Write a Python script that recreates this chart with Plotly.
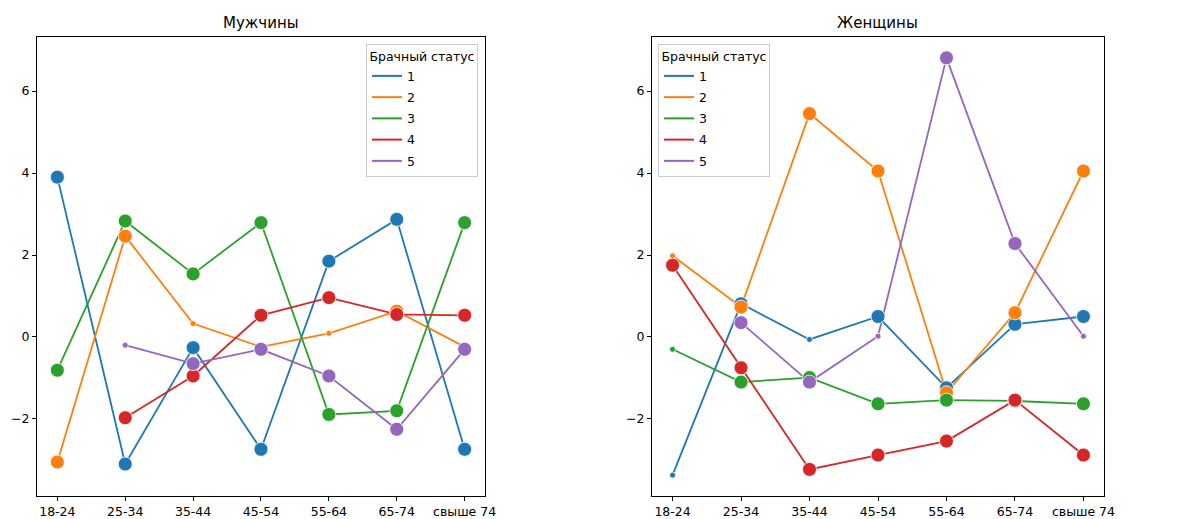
import plotly.graph_objects as go

age_groups = ["18-24", "25-34", "35-44", "45-54", "55-64", "65-74", "свыше 74"]
statuses = ["1", "2", "3", "4", "5"]
colors = ["#1f77b4", "#ff7f0e", "#2ca02c", "#d62728", "#9467bd"]

# Мужчины: values per marital status
men_1 = [3.90, -3.10, -0.26, -2.74, 1.85, 2.87, -2.74]
men_2 = [-3.05, 2.46, 0.33, -0.24, 0.09, 0.63, -0.24]
men_3 = [-0.81, 2.83, 1.54, 2.79, -1.89, -1.80, 2.79]
men_4 = [None, -1.97, -0.95, 0.53, 0.96, 0.55, 0.53]
men_5 = [None, -0.20, -0.65, -0.30, -0.95, -2.25, -0.30]
# significance flags (1 = large marker)
men_sig_1 = [1, 1, 1, 1, 1, 1, 1]
men_sig_2 = [1, 1, 0, 0, 0, 1, 0]
men_sig_3 = [1, 1, 1, 1, 1, 1, 1]
men_sig_4 = [0, 1, 1, 1, 1, 1, 1]
men_sig_5 = [0, 0, 1, 1, 1, 1, 1]

# Женщины
women_1 = [-3.37, 0.81, -0.06, 0.50, -1.24, 0.31, 0.50]
women_2 = [1.98, 0.73, 5.45, 4.05, -1.36, 0.59, 4.05]
women_3 = [-0.30, -1.10, -0.99, -1.63, -1.54, -1.56, -1.63]
women_4 = [1.75, -0.75, -3.23, -2.88, -2.54, -1.54, -2.88]
women_5 = [None, 0.35, -1.10, 0.02, 6.81, 2.28, 0.02]
women_sig_1 = [0, 1, 0, 1, 1, 1, 1]
women_sig_2 = [0, 1, 1, 1, 1, 1, 1]
women_sig_3 = [0, 1, 1, 1, 1, 1, 1]
women_sig_4 = [1, 1, 1, 1, 1, 1, 1]
women_sig_5 = [0, 1, 1, 0, 1, 1, 0]

men = [men_1, men_2, men_3, men_4, men_5]
men_sig = [men_sig_1, men_sig_2, men_sig_3, men_sig_4, men_sig_5]
women = [women_1, women_2, women_3, women_4, women_5]
women_sig = [women_sig_1, women_sig_2, women_sig_3, women_sig_4, women_sig_5]

BIG, SMALL = 14, 6
FONT = "DejaVu Sans"

fig = go.Figure()
xi = list(range(len(age_groups)))

panels = [("x", "y", men, men_sig), ("x2", "y2", women, women_sig)]
for xa, ya, data, sig in panels:
    for k, vals in enumerate(data):
        fig.add_trace(go.Scatter(x=xi, y=vals, mode="lines", xaxis=xa, yaxis=ya,
                                 line=dict(color=colors[k], width=1.8),
                                 showlegend=False, hoverinfo="skip"))
    for k, vals in enumerate(data):
        sizes = [BIG if s else SMALL for s in sig[k]]
        fig.add_trace(go.Scatter(x=xi, y=vals, mode="markers", xaxis=xa, yaxis=ya,
                                 marker=dict(color=colors[k], size=sizes, opacity=1,
                                             line=dict(color="white", width=0.8)),
                                 showlegend=False))

# legend entries (lines only)
for lg in ["legend", "legend2"]:
    for k, s in enumerate(statuses):
        fig.add_trace(go.Scatter(x=[None], y=[None], mode="lines", name=s,
                                 line=dict(color=colors[k], width=2),
                                 legend=lg, legendgroup=lg + s, showlegend=True))

allv = [v for d in men + women for v in d if v is not None]
lo, hi = min(allv), max(allv)
pad = (hi - lo) * 0.05
yrange = [lo - pad, hi + pad]

axis_common = dict(showline=True, linecolor="black", linewidth=1, mirror=True,
                   ticks="outside", ticklen=4, tickcolor="black", showgrid=False,
                   zeroline=False, automargin=False,
                   tickfont=dict(family=FONT, size=12.5, color="black"))

W, H = 1182, 511
XD1 = [0.02453, 0.40355]
XD2 = [0.54484, 0.92724]
YD = [0.04501, 0.94325]

legend_common = dict(yanchor="top", y=0.92955, tracegroupgap=2,
                     bgcolor="rgba(255,255,255,0.8)", bordercolor="#cccccc", borderwidth=1,
                     font=dict(family=FONT, size=12.5),
                     title=dict(text="Брачный статус", side="top center",
                                font=dict(family=FONT, size=12.5)))

fig.update_layout(
    width=W, height=H,
    paper_bgcolor="white", plot_bgcolor="white",
    margin=dict(l=0, r=0, t=0, b=0, autoexpand=False),
    font=dict(family=FONT, size=12.5, color="black"),
    xaxis=dict(domain=XD1, range=[-0.3, 6.3], tickmode="array",
               tickvals=xi, ticktext=age_groups, anchor="y", **axis_common),
    yaxis=dict(domain=YD, range=yrange, tickvals=[-2, 0, 2, 4, 6],
               anchor="x", **axis_common),
    xaxis2=dict(domain=XD2, range=[-0.3, 6.3], tickmode="array",
                tickvals=xi, ticktext=age_groups, anchor="y2", **axis_common),
    yaxis2=dict(domain=YD, range=yrange, tickvals=[-2, 0, 2, 4, 6],
                anchor="x2", **axis_common),
    legend=dict(x=0.39763, xanchor="right", **legend_common),
    legend2=dict(x=0.54992, xanchor="left", **legend_common),
    annotations=[
        dict(text="Мужчины", x=sum(XD1) / 2, y=YD[1], xref="paper", yref="paper",
             xanchor="center", yanchor="bottom", yshift=3, showarrow=False,
             font=dict(family=FONT, size=15)),
        dict(text="Женщины", x=sum(XD2) / 2, y=YD[1], xref="paper", yref="paper",
             xanchor="center", yanchor="bottom", yshift=3, showarrow=False,
             font=dict(family=FONT, size=15)),
    ],
)

fig.write_html("out.html")
